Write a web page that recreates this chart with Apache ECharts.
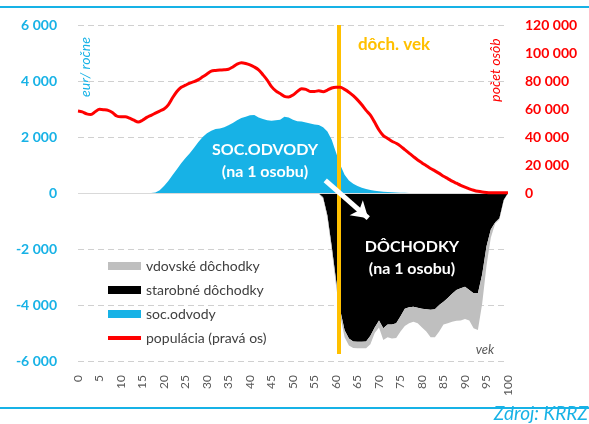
<!DOCTYPE html>
<html>
<head>
<meta charset="utf-8">
<script src="https://cdn.jsdelivr.net/npm/echarts@6/dist/echarts.min.js"></script>
<style>
html,body{margin:0;padding:0;background:#fff;}
#main{width:589px;height:424px;}
</style>
</head>
<body>
<div id="main"></div>
<script>
// vek (0 - 100)
var ages = [0,1,2,3,4,5,6,7,8,9,10,11,12,13,14,15,16,17,18,19,20,21,22,23,24,25,26,27,28,29,30,
	31,32,33,34,35,36,37,38,39,40,41,42,43,44,45,46,47,48,49,50,51,52,53,54,55,56,57,58,59,60,
	61,62,63,64,65,66,67,68,69,70,71,72,73,74,75,76,77,78,79,80,81,82,83,84,85,86,87,88,89,90,
	91,92,93,94,95,96,97,98,99,100];
// soc.odvody (eur/ročne na 1 osobu)
var socOdvody = [0,0,0,0,0,0,0,0,0,0,0,0,0,0,0,0,0,0,20,100,
	250,430,640,850,1060,1250,1420,1620,1820,2000,
	2130,2220,2290,2300,2350,2420,2500,2600,2680,2720,
	2780,2790,2700,2640,2600,2580,2600,2620,2720,2700,
	2620,2560,2550,2520,2480,2450,2430,2350,2200,1900,
	1450,1000,650,450,330,250,190,140,110,80,
	60,45,35,25,15,10,5,0,0,0,
	0,0,0,0,0,0,0,0,0,0,0,0,0,0,0,0,0,0,0,0,0];
// starobné dôchodky
var starobne = [0,0,0,0,0,0,0,0,0,0,0,0,0,0,0,0,0,0,0,0,
	0,0,0,0,0,0,0,0,0,0,0,0,0,0,0,0,0,0,0,0,
	0,0,0,0,0,0,0,0,0,0,0,0,0,0,0,0,
	-20,-150,-800,-1900,-3100,-4200,-4900,-5200,-5300,-5310,
	-5310,-5300,-5100,-4800,-4550,-4830,-4700,-4700,-4650,-4400,
	-4130,-4080,-4060,-4100,-4130,-4150,-4170,-4150,-4000,-3880,
	-3750,-3600,-3460,-3400,-3350,-3460,-3580,-3580,-2900,-1900,
	-1300,-1050,-900,-250,0];
// vdovské dôchodky
var vdovske = [0,0,0,0,0,0,0,0,0,0,0,0,0,0,0,0,0,0,0,0,
	0,0,0,0,0,0,0,0,0,0,0,0,0,0,0,0,0,0,0,0,
	0,0,0,0,0,0,0,0,0,0,0,-40,-40,-40,-40,-40,
	-20,-50,-100,-150,-200,-200,-250,-250,-240,-235,
	-235,-245,-300,-200,-250,-420,-450,-500,-530,-550,
	-620,-570,-540,-550,-670,-800,-980,-1000,-950,-820,
	-900,-1000,-1100,-1150,-1150,-1090,-1250,-1310,-1050,-700,
	-300,-50,-50,-30,0];
// populácia (počet osôb)
var populacia = [58600,58000,56500,56000,58000,59800,59500,59000,57500,55000,
	54500,54500,53500,52000,50700,52000,54000,55500,57000,58500,
	60000,63000,68000,72500,75500,77000,78500,79500,81000,83000,
	85000,87000,87500,87800,88000,88400,90000,92000,93000,92500,
	91500,90000,88000,84500,80700,76000,73000,71000,69000,68500,
	70000,72500,74500,74000,72500,72500,73000,72400,73500,75000,
	75500,75500,74000,72000,69500,66500,63000,59000,55700,50500,
	45000,41000,39000,37000,35500,33500,31000,28500,26000,23600,
	21500,19500,17500,15800,14000,12000,10300,8500,7000,5500,
	4200,3000,2000,1200,700,400,200,100,100,100,200];
var dochVek = 60.7;

function fmt(v){
	var s = Math.abs(v).toString().replace(/\B(?=(\d{3})+(?!\d))/g, ' ');
	return (v < 0 ? '-' : '') + s;
}

var BLUE = '#17b2e6', RED = '#ff0000', ORANGE = '#ffc000';
var font = 'Lato, "Noto Sans", sans-serif';

var dom = document.getElementById('main');
var myChart = echarts.init(dom, null, {renderer: 'canvas'});
var option = {
	animation: false,
	grid: {left: 78, right: 81, top: 25, bottom: 63},
	legend: {
		orient: 'vertical',
		left: 103,
		top: 254,
		itemWidth: 33,
		itemHeight: 8,
		itemGap: 10,
		textStyle: {fontFamily: font, fontSize: 14, color: '#404040'},
		data: [
			{name: 'vdovské dôchodky', icon: 'rect'},
			{name: 'starobné dôchodky', icon: 'rect'},
			{name: 'soc.odvody', icon: 'rect'},
			{name: 'populácia (pravá os)', icon: 'path://M0,0L33,0L33,4L0,4Z'}
		]
	},
	xAxis: [{
		type: 'category',
		data: ages,
		boundaryGap: false,
		axisLine: {show: false},
		axisTick: {show: false},
		splitLine: {show: false},
		axisLabel: {interval: 4, rotate: 90, margin: 14, fontFamily: font, fontSize: 12, color: '#595959'}
	}, {
		// pomocná os pre dôch. vek a šípku
		type: 'value',
		min: 0,
		max: 100,
		show: false
	}],
	yAxis: [{
		type: 'value',
		min: -6000,
		max: 6000,
		interval: 2000,
		axisLine: {show: false},
		axisTick: {show: false},
		splitLine: {lineStyle: {color: '#d0d0d0', type: [6, 4], width: 1}},
		axisLabel: {margin: 21, fontFamily: font, fontSize: 14, fontWeight: 'bold', color: BLUE, formatter: fmt}
	}, {
		type: 'value',
		min: -120000,
		max: 120000,
		interval: 20000,
		axisLine: {show: false},
		axisTick: {show: false},
		splitLine: {show: false},
		axisLabel: {margin: 17, fontFamily: font, fontSize: 14, fontWeight: 'bold', color: RED,
			formatter: function(v){ return v < 0 ? '' : fmt(v); }}
	}],
	series: [{
		name: 'starobné dôchodky',
		type: 'line',
		stack: 'doch',
		data: starobne,
		symbol: 'none',
		itemStyle: {color: '#000000'},
		lineStyle: {opacity: 0},
		areaStyle: {color: '#000000', opacity: 1},
		z: 2
	}, {
		name: 'vdovské dôchodky',
		type: 'line',
		stack: 'doch',
		data: vdovske,
		symbol: 'none',
		itemStyle: {color: '#bfbfbf'},
		lineStyle: {opacity: 0},
		areaStyle: {color: '#bfbfbf', opacity: 1},
		z: 2
	}, {
		name: 'soc.odvody',
		type: 'line',
		data: socOdvody,
		symbol: 'none',
		itemStyle: {color: BLUE},
		lineStyle: {opacity: 0},
		areaStyle: {color: BLUE, opacity: 1},
		z: 3,
		markLine: {
			silent: true,
			symbol: ['none', 'none'],
			label: {show: false},
			lineStyle: {color: '#d9d9d9', type: 'solid', width: 1},
			data: [{yAxis: 0}]
		}
	}, {
		name: 'populácia (pravá os)',
		type: 'line',
		yAxisIndex: 1,
		data: populacia,
		symbol: 'none',
		smooth: 0.3,
		itemStyle: {color: RED},
		lineStyle: {color: RED, width: 3},
		z: 5
	}, {
		name: 'dôch. vek',
		type: 'line',
		xAxisIndex: 1,
		data: [],
		z: 6,
		markLine: {
			silent: true,
			symbol: ['none', 'none'],
			label: {show: false},
			data: [
				[{coord: [dochVek, 6000], lineStyle: {color: ORANGE, width: 4, type: 'solid'}},
				 {coord: [dochVek, -5750]}]
			]
		}
	}, {
		name: 'sipka',
		type: 'line',
		xAxisIndex: 1,
		data: [],
		z: 7,
		markLine: {
			silent: true,
			symbol: ['none', 'arrow'],
			symbolSize: [15, 16],
			label: {show: false},
			data: [
				[{coord: [57.5, 450], lineStyle: {color: '#ffffff', width: 5, type: 'solid'}},
				 {coord: [67.5, -900]}]
			]
		}
	}],
	graphic: [
		{type: 'rect', left: 0, top: 6, shape: {width: 589, height: 2}, style: {fill: BLUE}},
		{type: 'rect', left: 0, top: 407, shape: {width: 589, height: 2}, style: {fill: BLUE}},
		{type: 'text', left: 12, top: -21, style: {text: 'populácia', font: 'bold 20px ' + font, fill: BLUE}},
		{type: 'text', x: 85, y: 67, rotation: Math.PI / 2,
			style: {text: 'eur/ ročne', font: 'italic 14px ' + font, fill: BLUE, align: 'center', verticalAlign: 'middle'}},
		{type: 'text', x: 495, y: 70, rotation: Math.PI / 2,
			style: {text: 'počet osôb', font: 'italic 14px ' + font, fill: RED, align: 'center', verticalAlign: 'middle'}},
		{type: 'text', x: 394, y: 45,
			style: {text: 'dôch. vek', font: 'bold 17px ' + font, fill: ORANGE, align: 'center', verticalAlign: 'middle'}},
		{type: 'text', x: 265, y: 150, z: 10,
			style: {text: 'SOC.ODVODY', font: 'bold 16px ' + font, fill: '#ffffff', align: 'center', verticalAlign: 'middle'}},
		{type: 'text', x: 265, y: 172, z: 10,
			style: {text: '(na 1 osobu)', font: 'bold 16px ' + font, fill: '#ffffff', align: 'center', verticalAlign: 'middle'}},
		{type: 'text', x: 412, y: 247, z: 10,
			style: {text: 'DÔCHODKY', font: 'bold 16px ' + font, fill: '#ffffff', align: 'center', verticalAlign: 'middle'}},
		{type: 'text', x: 412, y: 269, z: 10,
			style: {text: '(na 1 osobu)', font: 'bold 16px ' + font, fill: '#ffffff', align: 'center', verticalAlign: 'middle'}},
		{type: 'text', x: 485, y: 350,
			style: {text: 'vek', font: 'italic 13px ' + font, fill: '#595959', align: 'center', verticalAlign: 'middle'}},
		{type: 'text', right: 1, top: 404,
			style: {text: 'Zdroj: KRRZ', font: 'italic 19px ' + font, fill: BLUE}}
	]
};
if (option && typeof option === "object") {
	myChart.setOption(option, true);
}
</script>
</body>
</html>
